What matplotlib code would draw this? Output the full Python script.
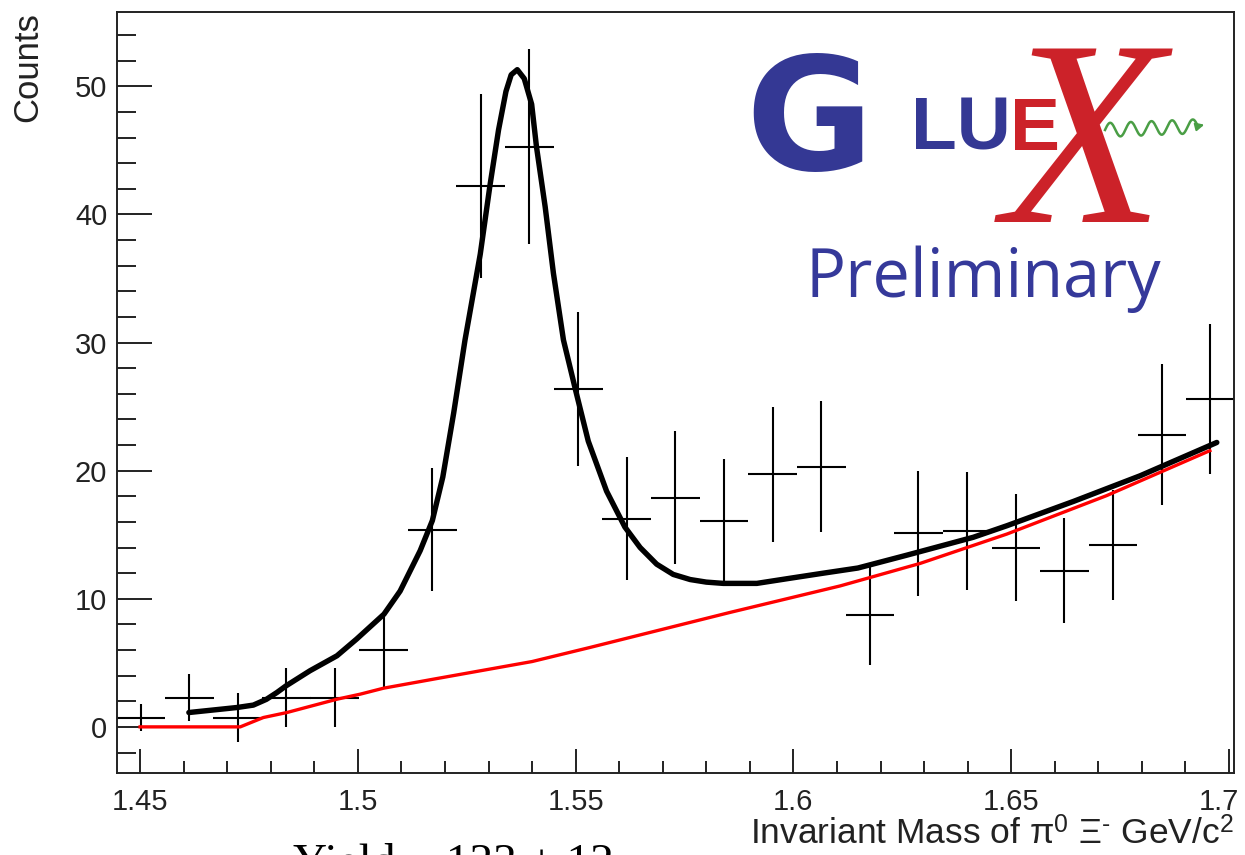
import numpy as np
import matplotlib
matplotlib.use("Agg")
import matplotlib.pyplot as plt
import matplotlib.transforms as mtrans
from matplotlib.ticker import MultipleLocator

plt.rcParams['font.family'] = ['Liberation Sans', 'DejaVu Sans']
plt.rcParams['mathtext.fontset'] = 'custom'
plt.rcParams['mathtext.rm'] = 'Liberation Sans'
plt.rcParams['mathtext.it'] = 'Liberation Serif:italic'
plt.rcParams['mathtext.bf'] = 'Liberation Sans:bold'

# ---------------- data ----------------
bin_centers = [1.4501, 1.4613, 1.4724, 1.4836, 1.4947, 1.5059, 1.5171, 1.5282,
               1.5394, 1.5506, 1.5617, 1.5729, 1.5841, 1.5952, 1.6064, 1.6176,
               1.6287, 1.6399, 1.6511, 1.6622, 1.6734, 1.6846, 1.6957]
bin_half_width = 0.00558
counts = [0.73, 2.29, 0.73, 2.29, 2.29, 6.0, 15.4, 42.2, 45.3, 26.4, 16.25, 17.9,
          16.1, 19.7, 20.3, 8.7, 15.1, 15.3, 14.0, 12.2, 14.2, 22.8, 25.6]
count_errors = [1.06, 1.85, 1.9, 2.3, 2.3, 2.87, 4.8, 7.2, 7.6, 6.0, 4.8, 5.2,
                4.8, 5.3, 5.1, 3.9, 4.9, 4.6, 4.2, 4.1, 4.3, 5.5, 5.85]

fit_x = [1.4612, 1.4722, 1.4760, 1.4790, 1.4814, 1.4835, 1.4890, 1.4952, 1.4997,
         1.5060, 1.5097, 1.5143, 1.5171, 1.5195, 1.5220, 1.5246, 1.5281, 1.5303,
         1.5323, 1.5340, 1.5352, 1.5366, 1.5382, 1.5399, 1.5410, 1.5430, 1.5449,
         1.5472, 1.5499, 1.5529, 1.5571, 1.5613, 1.5648, 1.5686, 1.5724, 1.5763,
         1.5800, 1.5839, 1.5916, 1.5992, 1.6069, 1.6148, 1.6260, 1.6413, 1.6490,
         1.6643, 1.6796, 1.6972]
fit_y = [1.12, 1.51, 1.70, 2.15, 2.68, 3.2, 4.38, 5.55, 6.85,
         8.8, 10.6, 13.75, 16.1, 19.5, 24.5, 30.2, 36.9, 42.2,
         46.6, 49.6, 50.9, 51.3, 50.6, 48.6, 45.3, 40.6, 35.4,
         30.2, 26.4, 22.3, 18.4, 15.6, 14.0, 12.7, 11.9, 11.5,
         11.3, 11.2, 11.2, 11.6, 12.0, 12.4, 13.4, 14.8, 15.7,
         17.6, 19.6, 22.2]

bkg_x = [1.4500, 1.4730, 1.4783, 1.4837, 1.4952, 1.5005, 1.5059, 1.5181, 1.5400,
         1.5533, 1.5854, 1.6107, 1.6291, 1.6490, 1.6719, 1.6956]
bkg_y = [0.0, 0.0, 0.73, 1.12, 2.16, 2.55, 3.02, 3.77, 5.1,
         6.2, 8.93, 11.0, 12.76, 15.05, 18.05, 21.56]

x_ticks = [1.45, 1.5, 1.55, 1.6, 1.65, 1.7]
x_tick_labels = ['1.45', '1.5', '1.55', '1.6', '1.65', '1.7']
y_ticks = [0, 10, 20, 30, 40, 50]

x_title = r'Invariant Mass of $\mathrm{\pi}^{0}$ $\mathrm{\Xi}^{\text{-}}$ GeV/c$^{2}$'
y_title = 'Counts'
yield_text = 'Yield = 133 \u00b1 12'

# ---------------- figure ----------------
W, H = 1245, 855
fig = plt.figure(figsize=(W / 100, H / 100), dpi=100)
ax_l, ax_r, ax_t, ax_b = 117, 1234, 12, 773
ax = fig.add_axes([ax_l / W, (H - ax_b) / H, (ax_r - ax_l) / W, (ax_b - ax_t) / H])

ax.errorbar(bin_centers, counts, xerr=bin_half_width, yerr=count_errors,
            fmt='none', ecolor='black', elinewidth=1.5, capsize=0, zorder=2)
ax.plot(bkg_x, bkg_y, color='#ff0000', lw=2.4, zorder=3, solid_joinstyle='round')
ax.plot(fit_x, fit_y, color='black', lw=3.9, zorder=4, solid_joinstyle='round',
        solid_capstyle='round')

ax.set_xlim(1.4447, 1.70115)
ax.set_ylim(-3.6, 55.8)
ax.set_xticks(x_ticks)
ax.set_xticklabels(x_tick_labels)
ax.set_yticks(y_ticks)
ax.xaxis.set_minor_locator(MultipleLocator(0.01))
ax.yaxis.set_minor_locator(MultipleLocator(2))
ax.tick_params(axis='both', which='both', direction='in', top=False, right=False,
               colors='#222222', width=1.4, labelsize=21)
ax.tick_params(axis='x', which='major', length=17, pad=11)
ax.tick_params(axis='x', which='minor', length=8.6)
ax.tick_params(axis='y', which='major', length=25, pad=7)
ax.tick_params(axis='y', which='minor', length=13.5)
for s in ax.spines.values():
    s.set_linewidth(1.4)
    s.set_color('#222222')

# keep the last x tick label inside the canvas, as in the reference
last_lab = ax.get_xticklabels()[-1]
last_lab.set_transform(last_lab.get_transform() +
                       mtrans.ScaledTranslation(-10 / 100, 0, fig.dpi_scale_trans))

# overlay in pixel coordinates for titles and logo
ov = fig.add_axes([0, 0, 1, 1])
ov.set_xlim(0, W)
ov.set_ylim(H, 0)
ov.axis('off')

ov.text(28, 12, y_title, rotation=90, ha='center', va='top', fontsize=25, color='#222222')
ov.text(1234, 845, x_title, ha='right', va='baseline', fontsize=25.5, color='#222222')
ov.text(293, 876, yield_text, ha='left', va='baseline', fontsize=34,
        family=['Liberation Serif', 'DejaVu Serif'], color='black', clip_on=False)

blue = '#343894'
red = '#cc2229'
green = '#4a9e45'
ov.text(745, 170, 'G', fontsize=112, fontweight='bold', family=['DejaVu Sans'],
        color=blue, ha='left', va='baseline')
ov.text(1084, 222, r'$\mathit{X}$', fontsize=190, color=red,
        ha='center', va='baseline')
ov.text(911, 150, 'LU', fontsize=54, fontweight='bold',
        family=['Liberation Sans'], color=blue, ha='left', va='baseline')
ov.text(1010, 150, 'E', fontsize=54, fontweight='bold',
        family=['Liberation Sans'], color=red, ha='left', va='baseline')
wx = np.linspace(1105, 1198, 300)
wy = 130 - 0.04 * (wx - 1105) - 7 * np.sin((wx - 1105) / 95 * 2 * np.pi * 4.6)
ov.plot(wx, wy, color=green, lw=1.8)
ov.annotate('', xy=(1207, 124), xytext=(1197, 126.5),
            arrowprops=dict(arrowstyle='-|>', color=green, lw=1.5,
                            mutation_scale=12))
ov.text(805, 297, 'Preliminary', fontsize=48, family=['Open Sans', 'DejaVu Sans'],
        color='#35399a', ha='left', va='baseline')

fig.savefig('out.png', dpi=100)
